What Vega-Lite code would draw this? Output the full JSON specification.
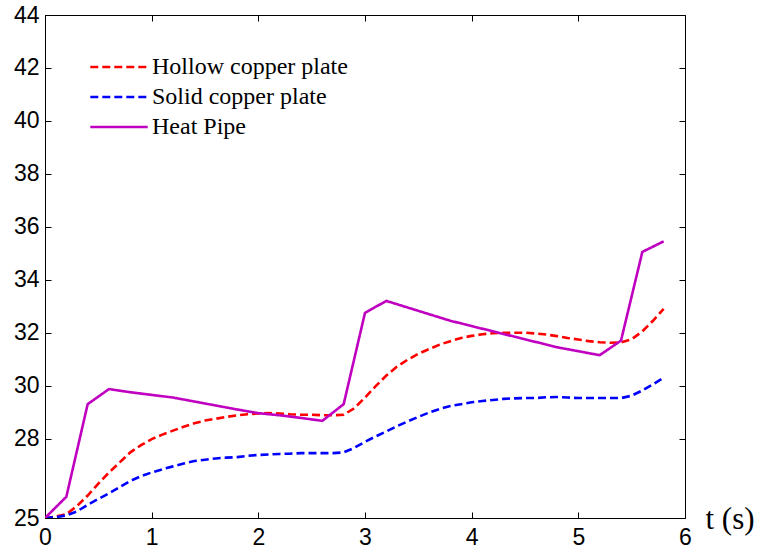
{
  "$schema": "https://vega.github.io/schema/vega-lite/v6.json",
  "autosize": "none",
  "width": 640,
  "height": 503,
  "padding": {"left": 45, "top": 15, "right": 81, "bottom": 36},
  "background": "white",
  "config": {
    "view": {"stroke": "black", "strokeWidth": 1},
    "axis": {
      "grid": false,
      "domainColor": "black",
      "tickColor": "black",
      "labelColor": "black",
      "labelFont": "Liberation Sans",
      "labelFontSize": 23,
      "labelFlush": false,
      "labelOverlap": false,
      "tickSize": -6,
      "tickWidth": 1
    }
  },
  "data": {
    "values": [
      {"t": 0.0, "T": 25.0, "series": "Hollow copper plate"},
      {"t": 0.1, "T": 25.05, "series": "Hollow copper plate"},
      {"t": 0.2, "T": 25.15, "series": "Hollow copper plate"},
      {"t": 0.3, "T": 25.45, "series": "Hollow copper plate"},
      {"t": 0.4, "T": 25.85, "series": "Hollow copper plate"},
      {"t": 0.5, "T": 26.3, "series": "Hollow copper plate"},
      {"t": 0.6, "T": 26.72, "series": "Hollow copper plate"},
      {"t": 0.7, "T": 27.1, "series": "Hollow copper plate"},
      {"t": 0.8, "T": 27.48, "series": "Hollow copper plate"},
      {"t": 0.9, "T": 27.75, "series": "Hollow copper plate"},
      {"t": 1.0, "T": 27.98, "series": "Hollow copper plate"},
      {"t": 1.1, "T": 28.15, "series": "Hollow copper plate"},
      {"t": 1.2, "T": 28.3, "series": "Hollow copper plate"},
      {"t": 1.3, "T": 28.45, "series": "Hollow copper plate"},
      {"t": 1.4, "T": 28.58, "series": "Hollow copper plate"},
      {"t": 1.5, "T": 28.68, "series": "Hollow copper plate"},
      {"t": 1.6, "T": 28.75, "series": "Hollow copper plate"},
      {"t": 1.7, "T": 28.82, "series": "Hollow copper plate"},
      {"t": 1.8, "T": 28.88, "series": "Hollow copper plate"},
      {"t": 1.9, "T": 28.92, "series": "Hollow copper plate"},
      {"t": 2.0, "T": 28.95, "series": "Hollow copper plate"},
      {"t": 2.1, "T": 28.96, "series": "Hollow copper plate"},
      {"t": 2.2, "T": 28.95, "series": "Hollow copper plate"},
      {"t": 2.3, "T": 28.92, "series": "Hollow copper plate"},
      {"t": 2.4, "T": 28.9, "series": "Hollow copper plate"},
      {"t": 2.5, "T": 28.9, "series": "Hollow copper plate"},
      {"t": 2.6, "T": 28.88, "series": "Hollow copper plate"},
      {"t": 2.7, "T": 28.88, "series": "Hollow copper plate"},
      {"t": 2.8, "T": 28.9, "series": "Hollow copper plate"},
      {"t": 2.9, "T": 29.15, "series": "Hollow copper plate"},
      {"t": 3.0, "T": 29.55, "series": "Hollow copper plate"},
      {"t": 3.1, "T": 29.98, "series": "Hollow copper plate"},
      {"t": 3.2, "T": 30.38, "series": "Hollow copper plate"},
      {"t": 3.3, "T": 30.72, "series": "Hollow copper plate"},
      {"t": 3.4, "T": 30.98, "series": "Hollow copper plate"},
      {"t": 3.5, "T": 31.2, "series": "Hollow copper plate"},
      {"t": 3.6, "T": 31.38, "series": "Hollow copper plate"},
      {"t": 3.7, "T": 31.55, "series": "Hollow copper plate"},
      {"t": 3.8, "T": 31.68, "series": "Hollow copper plate"},
      {"t": 3.9, "T": 31.8, "series": "Hollow copper plate"},
      {"t": 4.0, "T": 31.88, "series": "Hollow copper plate"},
      {"t": 4.1, "T": 31.94, "series": "Hollow copper plate"},
      {"t": 4.2, "T": 31.98, "series": "Hollow copper plate"},
      {"t": 4.3, "T": 32.0, "series": "Hollow copper plate"},
      {"t": 4.4, "T": 32.0, "series": "Hollow copper plate"},
      {"t": 4.5, "T": 32.0, "series": "Hollow copper plate"},
      {"t": 4.6, "T": 31.97, "series": "Hollow copper plate"},
      {"t": 4.7, "T": 31.93, "series": "Hollow copper plate"},
      {"t": 4.8, "T": 31.87, "series": "Hollow copper plate"},
      {"t": 4.9, "T": 31.8, "series": "Hollow copper plate"},
      {"t": 5.0, "T": 31.74, "series": "Hollow copper plate"},
      {"t": 5.1, "T": 31.68, "series": "Hollow copper plate"},
      {"t": 5.2, "T": 31.64, "series": "Hollow copper plate"},
      {"t": 5.3, "T": 31.62, "series": "Hollow copper plate"},
      {"t": 5.4, "T": 31.63, "series": "Hollow copper plate"},
      {"t": 5.5, "T": 31.75, "series": "Hollow copper plate"},
      {"t": 5.6, "T": 32.05, "series": "Hollow copper plate"},
      {"t": 5.7, "T": 32.45, "series": "Hollow copper plate"},
      {"t": 5.8, "T": 32.9, "series": "Hollow copper plate"},

      {"t": 0.0, "T": 25.0, "series": "Solid copper plate"},
      {"t": 0.1, "T": 25.03, "series": "Solid copper plate"},
      {"t": 0.2, "T": 25.1, "series": "Solid copper plate"},
      {"t": 0.3, "T": 25.25, "series": "Solid copper plate"},
      {"t": 0.4, "T": 25.5, "series": "Solid copper plate"},
      {"t": 0.5, "T": 25.72, "series": "Solid copper plate"},
      {"t": 0.6, "T": 25.93, "series": "Solid copper plate"},
      {"t": 0.7, "T": 26.17, "series": "Solid copper plate"},
      {"t": 0.8, "T": 26.4, "series": "Solid copper plate"},
      {"t": 0.9, "T": 26.58, "series": "Solid copper plate"},
      {"t": 1.0, "T": 26.72, "series": "Solid copper plate"},
      {"t": 1.1, "T": 26.84, "series": "Solid copper plate"},
      {"t": 1.2, "T": 26.95, "series": "Solid copper plate"},
      {"t": 1.3, "T": 27.06, "series": "Solid copper plate"},
      {"t": 1.4, "T": 27.15, "series": "Solid copper plate"},
      {"t": 1.5, "T": 27.2, "series": "Solid copper plate"},
      {"t": 1.6, "T": 27.25, "series": "Solid copper plate"},
      {"t": 1.7, "T": 27.28, "series": "Solid copper plate"},
      {"t": 1.8, "T": 27.3, "series": "Solid copper plate"},
      {"t": 1.9, "T": 27.35, "series": "Solid copper plate"},
      {"t": 2.0, "T": 27.38, "series": "Solid copper plate"},
      {"t": 2.1, "T": 27.4, "series": "Solid copper plate"},
      {"t": 2.2, "T": 27.42, "series": "Solid copper plate"},
      {"t": 2.3, "T": 27.43, "series": "Solid copper plate"},
      {"t": 2.4, "T": 27.45, "series": "Solid copper plate"},
      {"t": 2.5, "T": 27.45, "series": "Solid copper plate"},
      {"t": 2.6, "T": 27.45, "series": "Solid copper plate"},
      {"t": 2.7, "T": 27.45, "series": "Solid copper plate"},
      {"t": 2.8, "T": 27.48, "series": "Solid copper plate"},
      {"t": 2.9, "T": 27.65, "series": "Solid copper plate"},
      {"t": 3.0, "T": 27.88, "series": "Solid copper plate"},
      {"t": 3.1, "T": 28.08, "series": "Solid copper plate"},
      {"t": 3.2, "T": 28.27, "series": "Solid copper plate"},
      {"t": 3.3, "T": 28.47, "series": "Solid copper plate"},
      {"t": 3.4, "T": 28.65, "series": "Solid copper plate"},
      {"t": 3.5, "T": 28.82, "series": "Solid copper plate"},
      {"t": 3.6, "T": 28.98, "series": "Solid copper plate"},
      {"t": 3.7, "T": 29.12, "series": "Solid copper plate"},
      {"t": 3.8, "T": 29.23, "series": "Solid copper plate"},
      {"t": 3.9, "T": 29.3, "series": "Solid copper plate"},
      {"t": 4.0, "T": 29.37, "series": "Solid copper plate"},
      {"t": 4.1, "T": 29.42, "series": "Solid copper plate"},
      {"t": 4.2, "T": 29.46, "series": "Solid copper plate"},
      {"t": 4.3, "T": 29.5, "series": "Solid copper plate"},
      {"t": 4.4, "T": 29.52, "series": "Solid copper plate"},
      {"t": 4.5, "T": 29.53, "series": "Solid copper plate"},
      {"t": 4.6, "T": 29.53, "series": "Solid copper plate"},
      {"t": 4.7, "T": 29.56, "series": "Solid copper plate"},
      {"t": 4.8, "T": 29.57, "series": "Solid copper plate"},
      {"t": 4.9, "T": 29.55, "series": "Solid copper plate"},
      {"t": 5.0, "T": 29.53, "series": "Solid copper plate"},
      {"t": 5.1, "T": 29.53, "series": "Solid copper plate"},
      {"t": 5.2, "T": 29.53, "series": "Solid copper plate"},
      {"t": 5.3, "T": 29.53, "series": "Solid copper plate"},
      {"t": 5.4, "T": 29.53, "series": "Solid copper plate"},
      {"t": 5.5, "T": 29.62, "series": "Solid copper plate"},
      {"t": 5.6, "T": 29.82, "series": "Solid copper plate"},
      {"t": 5.7, "T": 30.05, "series": "Solid copper plate"},
      {"t": 5.8, "T": 30.3, "series": "Solid copper plate"},

      {"t": 0.0, "T": 25.0, "series": "Heat Pipe"},
      {"t": 0.2, "T": 25.8, "series": "Heat Pipe"},
      {"t": 0.4, "T": 29.3, "series": "Heat Pipe"},
      {"t": 0.6, "T": 29.87, "series": "Heat Pipe"},
      {"t": 0.8, "T": 29.75, "series": "Heat Pipe"},
      {"t": 1.0, "T": 29.65, "series": "Heat Pipe"},
      {"t": 1.2, "T": 29.55, "series": "Heat Pipe"},
      {"t": 1.4, "T": 29.4, "series": "Heat Pipe"},
      {"t": 1.6, "T": 29.25, "series": "Heat Pipe"},
      {"t": 1.8, "T": 29.1, "series": "Heat Pipe"},
      {"t": 2.0, "T": 28.96, "series": "Heat Pipe"},
      {"t": 2.2, "T": 28.88, "series": "Heat Pipe"},
      {"t": 2.4, "T": 28.78, "series": "Heat Pipe"},
      {"t": 2.6, "T": 28.67, "series": "Heat Pipe"},
      {"t": 2.8, "T": 29.3, "series": "Heat Pipe"},
      {"t": 3.0, "T": 32.75, "series": "Heat Pipe"},
      {"t": 3.2, "T": 33.2, "series": "Heat Pipe"},
      {"t": 3.4, "T": 32.95, "series": "Heat Pipe"},
      {"t": 3.6, "T": 32.7, "series": "Heat Pipe"},
      {"t": 3.8, "T": 32.45, "series": "Heat Pipe"},
      {"t": 4.0, "T": 32.25, "series": "Heat Pipe"},
      {"t": 4.2, "T": 32.05, "series": "Heat Pipe"},
      {"t": 4.4, "T": 31.85, "series": "Heat Pipe"},
      {"t": 4.6, "T": 31.65, "series": "Heat Pipe"},
      {"t": 4.8, "T": 31.45, "series": "Heat Pipe"},
      {"t": 5.0, "T": 31.3, "series": "Heat Pipe"},
      {"t": 5.2, "T": 31.15, "series": "Heat Pipe"},
      {"t": 5.4, "T": 31.7, "series": "Heat Pipe"},
      {"t": 5.6, "T": 35.05, "series": "Heat Pipe"},
      {"t": 5.8, "T": 35.45, "series": "Heat Pipe"}
    ]
  },
  "layer": [
    {
      "mark": {"type": "line", "strokeWidth": 2.6, "clip": true},
      "encoding": {
        "x": {
          "field": "t",
          "type": "quantitative",
          "scale": {"domain": [0, 6], "nice": false, "zero": false},
          "axis": {
            "orient": "bottom",
            "values": [0, 1, 2, 3, 4, 5, 6],
            "labelPadding": 14,
            "title": "t (s)",
            "titleFont": "Liberation Serif",
            "titleFontSize": 31,
            "titleFontWeight": "normal",
            "titleColor": "black",
            "titleAlign": "left",
            "titleBaseline": "middle",
            "titleAngle": 0,
            "titleX": 660,
            "titleY": 1
          }
        },
        "y": {
          "field": "T",
          "type": "quantitative",
          "scale": {"domain": [25, 44], "nice": false, "zero": false},
          "axis": {
            "orient": "left",
            "values": [25, 28, 30, 32, 34, 36, 38, 40, 42, 44],
            "labelPadding": 12,
            "title": null
          }
        },
        "color": {
          "field": "series",
          "type": "nominal",
          "sort": ["Hollow copper plate", "Solid copper plate", "Heat Pipe"],
          "scale": {
            "domain": ["Hollow copper plate", "Solid copper plate", "Heat Pipe"],
            "range": ["#ff0000", "#0000ff", "#c000c0"]
          },
          "legend": {
            "title": null,
            "orient": "none",
            "legendX": 62,
            "legendY": 40,
            "padding": 0,
            "symbolType": "M-4.1,0H4.1",
            "symbolSize": 196,
            "symbolStrokeWidth": 2.6,
            "labelOffset": 21,
            "labelFont": "Liberation Serif",
            "labelFontSize": 24,
            "labelColor": "black",
            "labelLimit": 400,
            "rowPadding": 6
          }
        },
        "strokeDash": {
          "field": "series",
          "type": "nominal",
          "sort": ["Hollow copper plate", "Solid copper plate", "Heat Pipe"],
          "scale": {
            "domain": ["Hollow copper plate", "Solid copper plate", "Heat Pipe"],
            "range": [[8, 4], [8, 4], [1, 0]]
          },
          "legend": {
            "title": null,
            "orient": "none",
            "legendX": 62,
            "legendY": 40,
            "padding": 0,
            "symbolType": "M-4.1,0H4.1",
            "symbolSize": 196,
            "symbolStrokeWidth": 2.6,
            "labelOffset": 21,
            "labelFont": "Liberation Serif",
            "labelFontSize": 24,
            "labelColor": "black",
            "labelLimit": 400,
            "rowPadding": 6
          }
        }
      }
    },
    {
      "mark": {"type": "line", "opacity": 0},
      "encoding": {
        "x": {
          "field": "t",
          "type": "quantitative",
          "axis": {
            "orient": "top",
            "values": [0, 1, 2, 3, 4, 5, 6],
            "labels": false,
            "domain": false,
            "title": null
          }
        },
        "y": {
          "field": "T",
          "type": "quantitative",
          "axis": {
            "orient": "right",
            "values": [25, 28, 30, 32, 34, 36, 38, 40, 42, 44],
            "labels": false,
            "domain": false,
            "title": null
          }
        },
        "detail": {"field": "series", "type": "nominal"}
      }
    }
  ],
  "resolve": {"axis": {"x": "independent", "y": "independent"}}
}
